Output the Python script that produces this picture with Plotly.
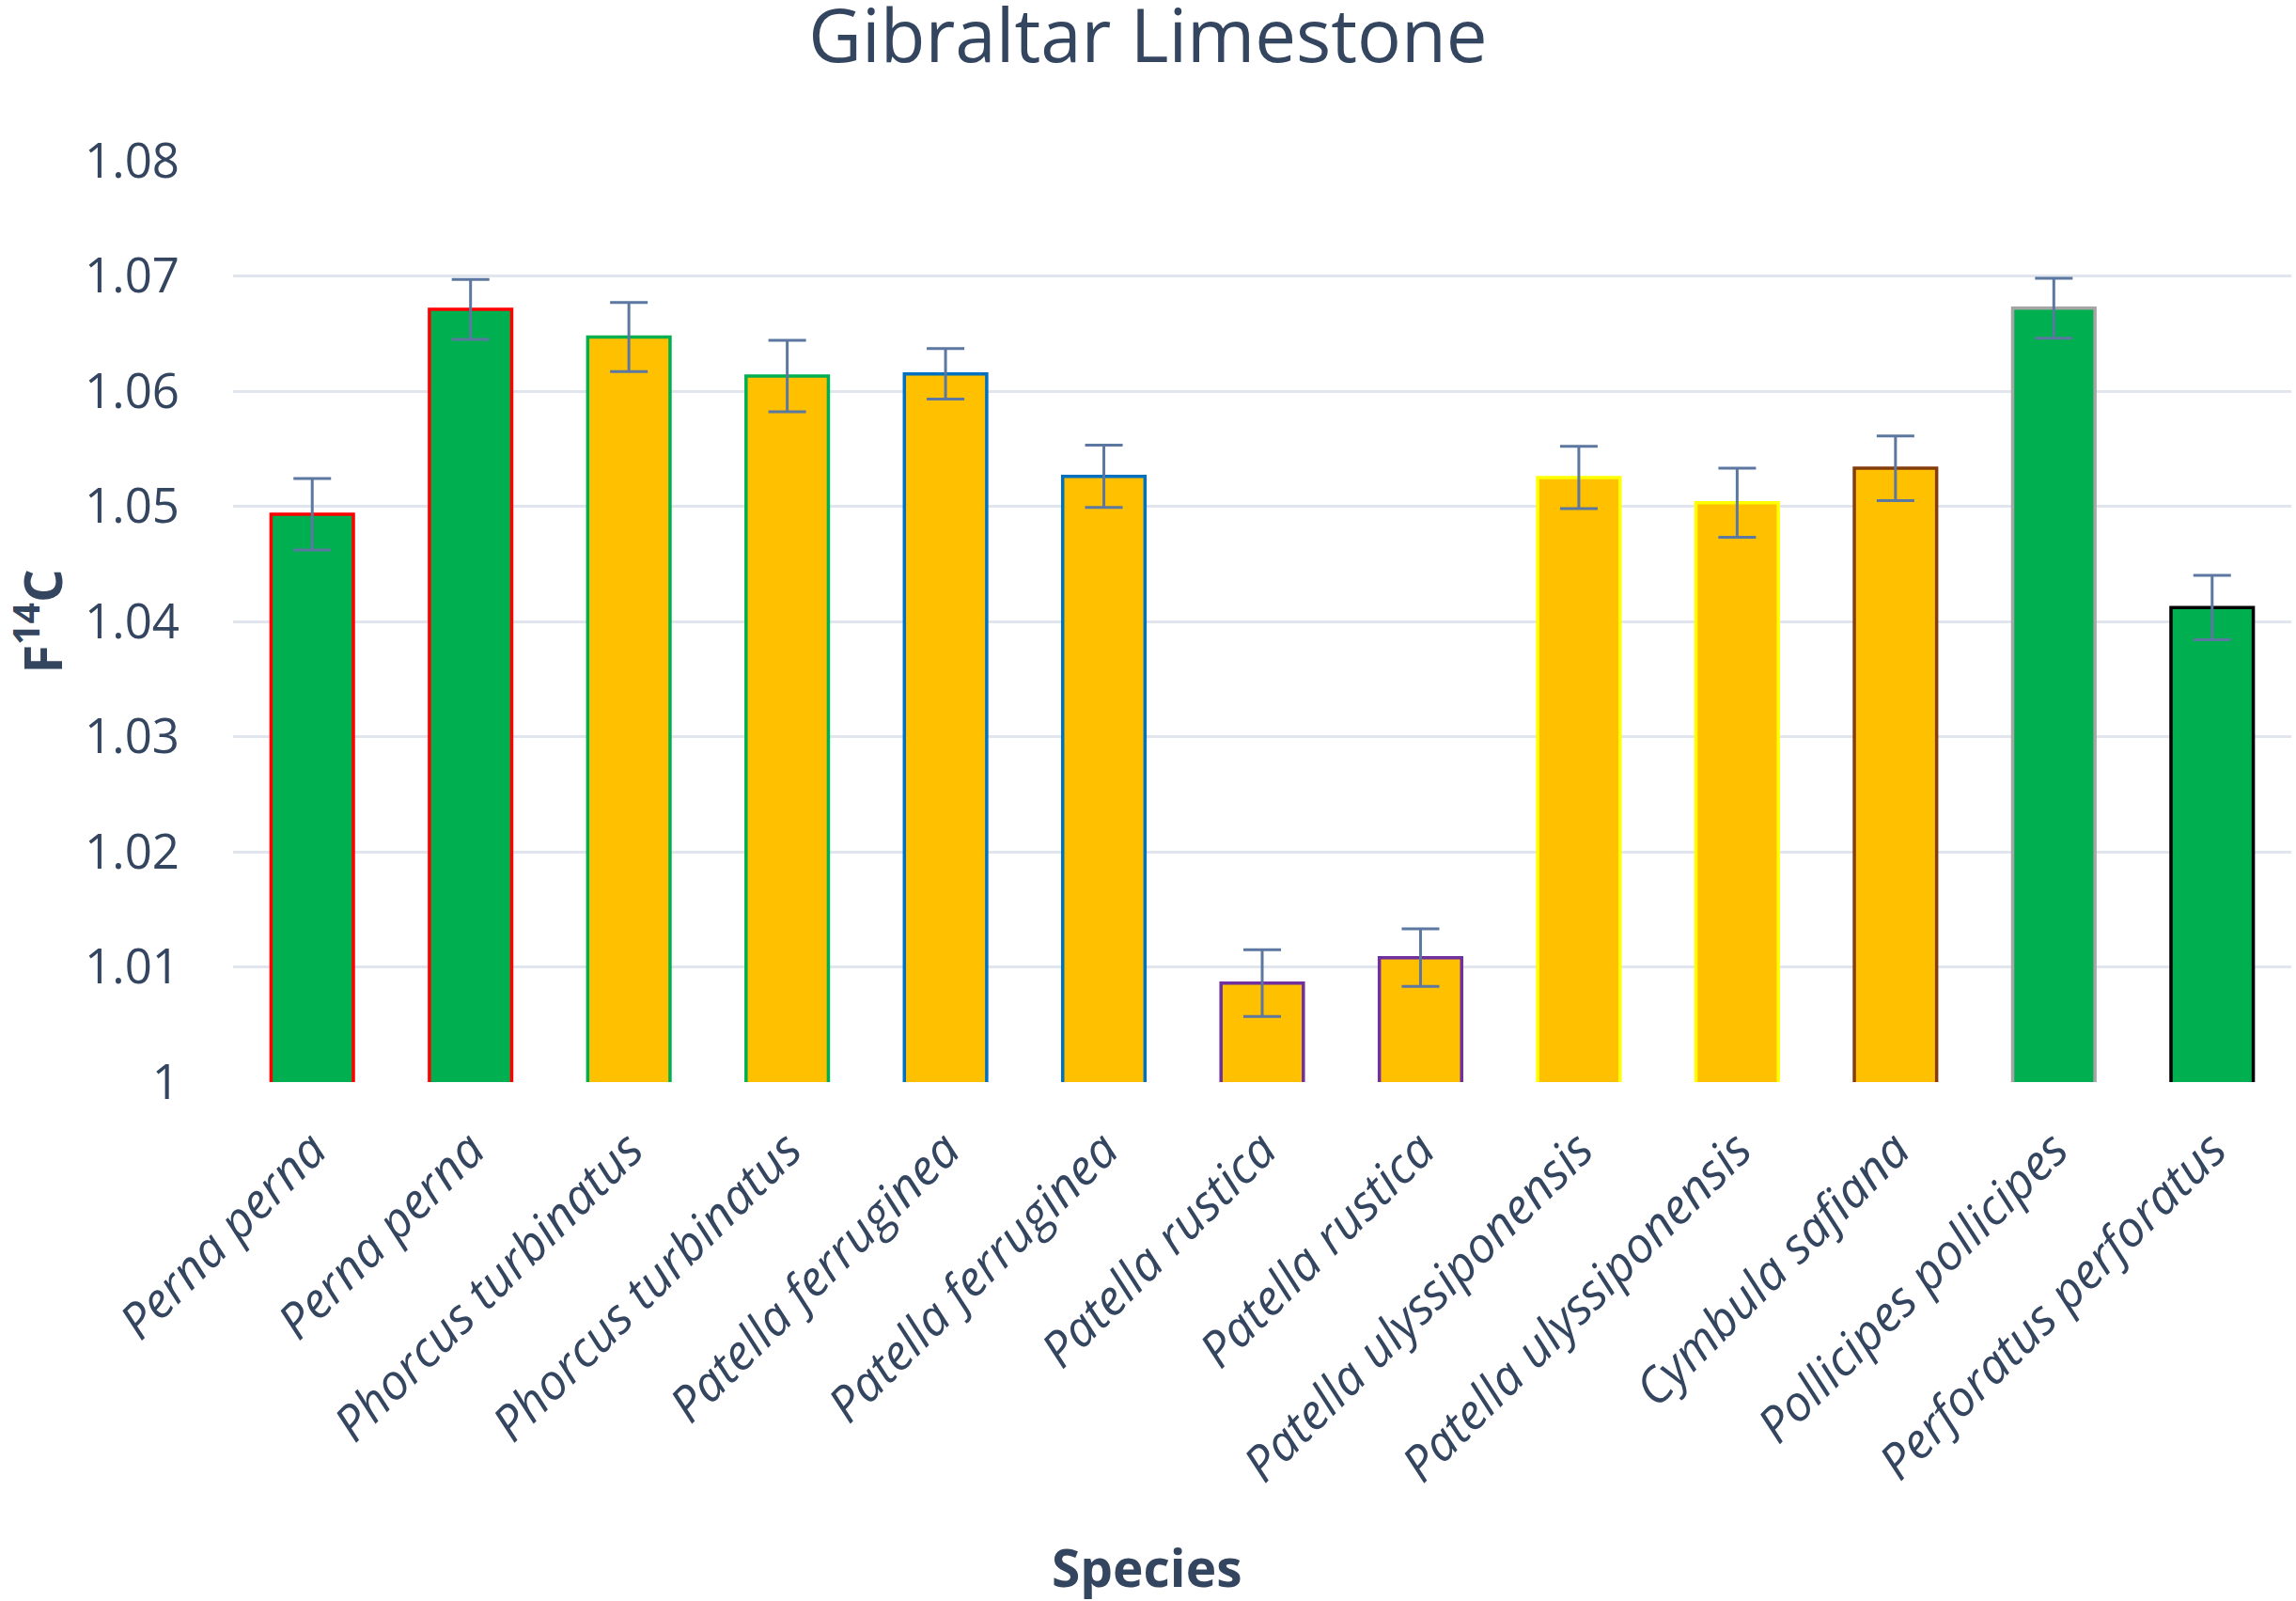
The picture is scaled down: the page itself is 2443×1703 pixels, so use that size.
import plotly.graph_objects as go

species = ["Perna perna", "Perna perna", "Phorcus turbinatus", "Phorcus turbinatus",
           "Patella ferruginea", "Patella ferruginea", "Patella rustica", "Patella rustica",
           "Patella ulyssiponensis", "Patella ulyssiponensis", "Cymbula safiana",
           "Pollicipes pollicipes", "Perforatus perforatus"]
f14c = [1.0493, 1.0671, 1.0647, 1.0613, 1.0615, 1.0526, 1.0086, 1.0108,
        1.0525, 1.0503, 1.0533, 1.0672, 1.0412]
f14c_err = [0.0031, 0.0026, 0.0030, 0.0031, 0.0022, 0.0027, 0.0029, 0.0025,
            0.0027, 0.0030, 0.0028, 0.0026, 0.0028]
y_ticks = [1, 1.01, 1.02, 1.03, 1.04, 1.05, 1.06, 1.07, 1.08]
y_ticklabels = ["1", "1.01", "1.02", "1.03", "1.04", "1.05", "1.06", "1.07", "1.08"]

GREEN = "#00B050"
GOLD = "#FFC000"
fill_colors = [GREEN, GREEN, GOLD, GOLD, GOLD, GOLD, GOLD, GOLD, GOLD, GOLD, GOLD, GREEN, GREEN]
line_colors = ["#FF0000", "#FF0000", "#00B050", "#00B050", "#0070C0", "#0070C0",
               "#7030A0", "#7030A0", "#FFFF00", "#FFFF00", "#843C0C", "#A5A5A5", "#000000"]

TEXT = "#344560"
x_idx = list(range(len(species)))

fig = go.Figure(go.Bar(
    x=x_idx, y=f14c,
    base=0,
    marker=dict(color=fill_colors, line=dict(color=line_colors, width=3.5)),
    error_y=dict(type="data", array=f14c_err, visible=True,
                 color="#5C77A0", thickness=3, width=20),
    width=0.52,
))

fig.update_layout(
    width=2443, height=1703,
    paper_bgcolor="white", plot_bgcolor="white",
    margin=dict(l=248, r=5, t=171, b=552, autoexpand=False),
    font=dict(family="Open Sans", color=TEXT),
    title=dict(text="Gibraltar Limestone", x=0.5, xanchor="center",
               xref="container", y=0.977, yanchor="middle", yref="container",
               font=dict(size=78, color=TEXT)),
    showlegend=False,
    bargap=0.48,
)

fig.update_xaxes(
    tickmode="array", tickvals=x_idx, ticktext=species,
    tickangle=-45, tickfont=dict(size=52, style="italic", color=TEXT),
    range=[-0.5, len(species) - 0.5],
    showgrid=False, zeroline=False, showline=False, ticks="",
    ticklabelstandoff=30, automargin=False,
)
fig.update_yaxes(
    range=[1, 1.08], tickmode="array", tickvals=y_ticks, ticktext=y_ticklabels,
    tickfont=dict(size=51, color=TEXT),
    showgrid=True, gridcolor="#E0E5EE", gridwidth=3,
    zeroline=False, showline=False, ticks="",
    ticklabelstandoff=56, automargin=False,
    title=dict(text="<b>F<sup>14</sup>C</b>", font=dict(size=56, color=TEXT), standoff=22),
)

fig.add_annotation(
    text="<b>Species</b>", xref="paper", yref="paper",
    x=0.444, y=-0.5265, xanchor="center", yanchor="middle",
    showarrow=False, font=dict(size=55, color=TEXT),
)

fig.write_html("out.html")
